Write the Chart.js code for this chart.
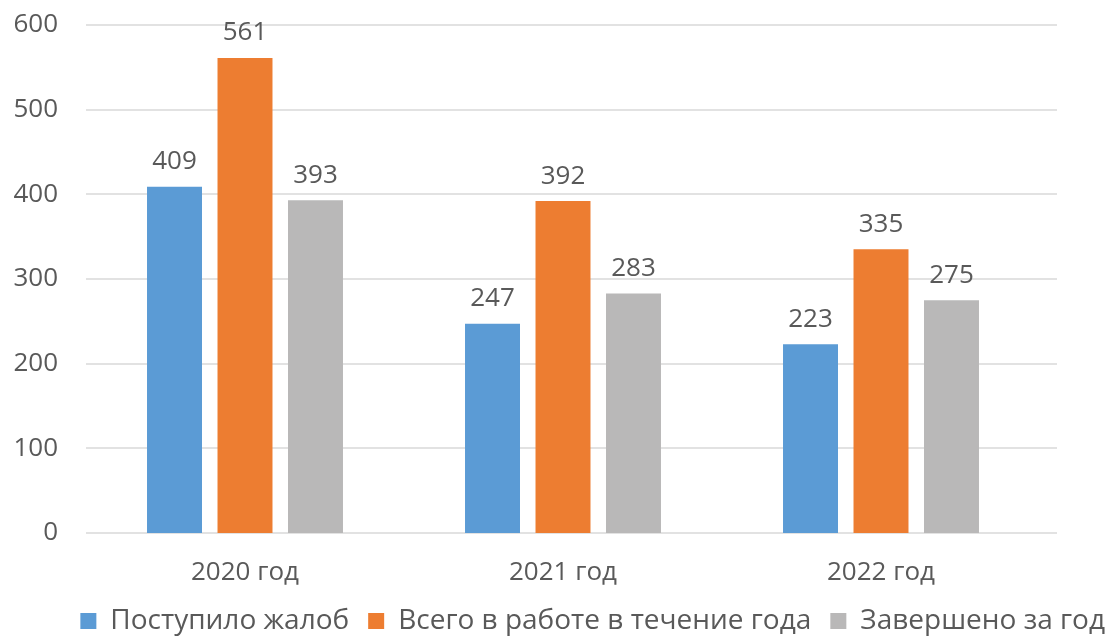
<!DOCTYPE html>
<html>
<head>
<meta charset="utf-8">
<script src="https://cdn.jsdelivr.net/npm/chart.js@4/dist/chart.umd.min.js"></script>
<style>
  html, body { margin: 0; padding: 0; background: #fff; }
  #wrap { width: 1112px; height: 639px; }
</style>
</head>
<body>
<div id="wrap"><canvas id="myChart" width="1112" height="639"></canvas></div>
<script>
var categories = ["2020 год", "2021 год", "2022 год"];
var received = [409, 247, 223];
var inWork = [561, 392, 335];
var completed = [393, 283, 275];
var seriesNames = ["Поступило жалоб", "Всего в работе в течение года", "Завершено за год"];
var yTicks = [0, 100, 200, 300, 400, 500, 600];

var textColor = '#595959';
var fontFamily = "'Open Sans', 'Noto Sans', sans-serif";

// light horizontal grid that runs a bit past the last category, as in the original
var gridPlugin = {
    id: 'gridLines',
    beforeDatasetsDraw: function (chart) {
        var ctx = chart.ctx;
        var y = chart.scales.y;
        ctx.save();
        ctx.strokeStyle = '#E2E2E2';
        ctx.lineWidth = 2;
        yTicks.forEach(function (v) {
            var py = Math.round(y.getPixelForValue(v));
            ctx.beginPath();
            ctx.moveTo(chart.chartArea.left, py);
            ctx.lineTo(1057, py);
            ctx.stroke();
        });
        ctx.restore();
    }
};

// value labels above each bar
var valuePlugin = {
    id: 'valueLabels',
    afterDatasetsDraw: function (chart) {
        var ctx = chart.ctx;
        ctx.save();
        ctx.font = '26px ' + fontFamily;
        ctx.fillStyle = textColor;
        ctx.textAlign = 'center';
        ctx.textBaseline = 'bottom';
        chart.data.datasets.forEach(function (ds, i) {
            chart.getDatasetMeta(i).data.forEach(function (bar, j) {
                ctx.fillText(ds.data[j], bar.x, bar.y - 12);
            });
        });
        ctx.restore();
    }
};

var ctx = document.getElementById('myChart').getContext('2d');
var chart = new Chart(ctx, {
    type: 'bar',
    data: {
        labels: categories,
        datasets: [
            { label: seriesNames[0], data: received, backgroundColor: '#5B9BD5' },
            { label: seriesNames[1], data: inWork, backgroundColor: '#ED7D31' },
            { label: seriesNames[2], data: completed, backgroundColor: '#B9B8B8' }
        ]
    },
    options: {
        responsive: false,
        animation: false,
        layout: { padding: { top: 25, right: -12, left: 0, bottom: 0 } },
        datasets: {
            bar: { categoryPercentage: 0.665, barPercentage: 0.78 }
        },
        scales: {
            x: {
                grid: { display: false, drawTicks: false },
                border: { display: false },
                ticks: { color: textColor, font: { family: fontFamily, size: 26 }, padding: 24 },
                afterFit: function (scale) { scale.height = 55; }
            },
            y: {
                min: 0,
                max: 600,
                grid: { display: false, drawTicks: false },
                border: { display: false },
                afterBuildTicks: function (scale) {
                    scale.ticks = yTicks.map(function (v) { return { value: v }; });
                },
                ticks: { color: textColor, font: { family: fontFamily, size: 26 }, padding: 28 },
                afterFit: function (scale) {
                    scale.width = 86;
                    scale.paddingTop = 0;
                    scale.paddingBottom = 0;
                }
            },
            // empty right-hand spacer so the plot ends where the original's does
            y2: {
                position: 'right',
                min: 0,
                max: 600,
                grid: { display: false, drawTicks: false },
                border: { display: false },
                ticks: { display: false },
                afterFit: function (scale) {
                    scale.width = 84;
                    scale.paddingTop = 0;
                    scale.paddingBottom = 0;
                }
            }
        },
        plugins: {
            legend: {
                position: 'bottom',
                align: 'end',
                maxHeight: 51,
                labels: {
                    color: textColor,
                    font: { family: fontFamily, size: 28 },
                    boxWidth: 16,
                    boxHeight: 16,
                    padding: 19
                }
            },
            tooltip: { enabled: false }
        }
    },
    plugins: [gridPlugin, valuePlugin]
});
</script>
</body>
</html>
